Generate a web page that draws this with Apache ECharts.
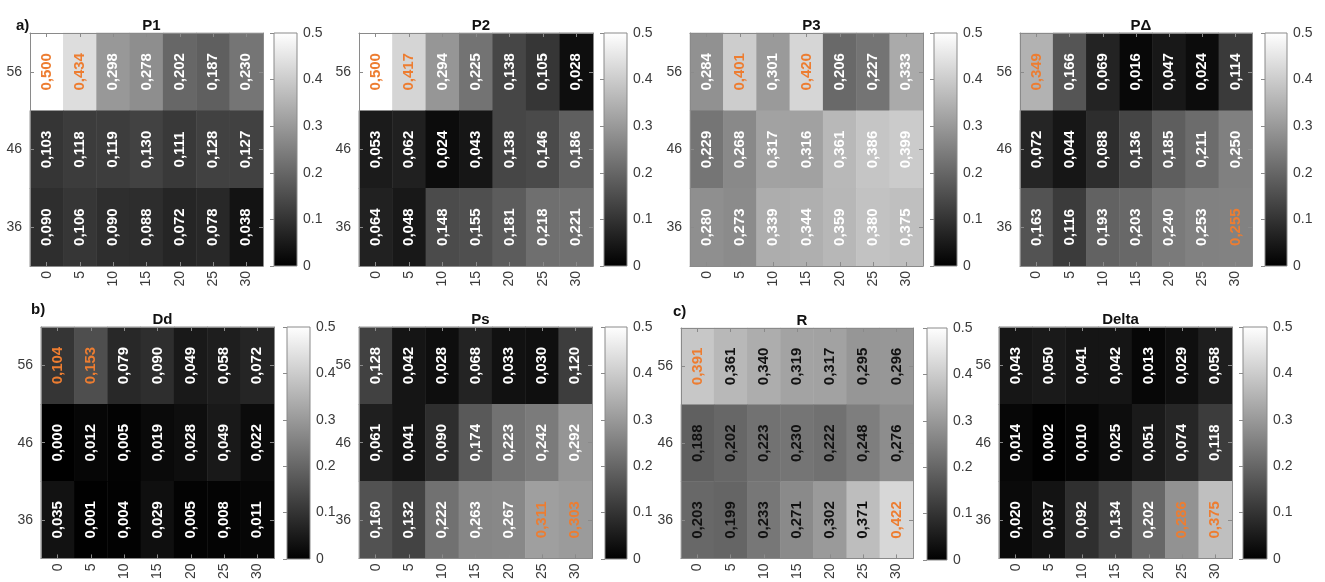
<!DOCTYPE html>
<html>
<head>
<meta charset="utf-8">
<script src="https://cdn.jsdelivr.net/npm/echarts@6/dist/echarts.min.js"></script>
<style>html,body{margin:0;padding:0;background:#fff;}#c{width:1325px;height:582px;}</style>
</head>
<body>
<div id="c"></div>
<script>
// ---- data (rows listed top to bottom: 56, 46, 36) ----
const xCats = ['0', '5', '10', '15', '20', '25', '30'];
const yCats = ['36', '46', '56'];
const rowOrder = ['56', '46', '36'];
const cbTicks = [0, 0.1, 0.2, 0.3, 0.4, 0.5];

const P1 = [
  [0.500, 0.434, 0.298, 0.278, 0.202, 0.187, 0.230],
  [0.103, 0.118, 0.119, 0.130, 0.111, 0.128, 0.127],
  [0.090, 0.106, 0.090, 0.088, 0.072, 0.078, 0.038]
];
const P2 = [
  [0.500, 0.417, 0.294, 0.225, 0.138, 0.105, 0.028],
  [0.053, 0.062, 0.024, 0.043, 0.138, 0.146, 0.186],
  [0.064, 0.048, 0.148, 0.155, 0.181, 0.218, 0.221]
];
const P3 = [
  [0.284, 0.401, 0.301, 0.420, 0.206, 0.227, 0.333],
  [0.229, 0.268, 0.317, 0.316, 0.361, 0.386, 0.399],
  [0.280, 0.273, 0.339, 0.344, 0.359, 0.380, 0.375]
];
const PD = [
  [0.349, 0.166, 0.069, 0.016, 0.047, 0.024, 0.114],
  [0.072, 0.044, 0.088, 0.136, 0.185, 0.211, 0.250],
  [0.163, 0.116, 0.193, 0.203, 0.240, 0.253, 0.255]
];
const Dd = [
  [0.104, 0.153, 0.079, 0.090, 0.049, 0.058, 0.072],
  [0.000, 0.012, 0.005, 0.019, 0.028, 0.049, 0.022],
  [0.035, 0.001, 0.004, 0.029, 0.005, 0.008, 0.011]
];
const Ps = [
  [0.128, 0.042, 0.028, 0.068, 0.033, 0.030, 0.120],
  [0.061, 0.041, 0.090, 0.174, 0.223, 0.242, 0.292],
  [0.160, 0.132, 0.222, 0.263, 0.267, 0.311, 0.303]
];
const R = [
  [0.391, 0.361, 0.340, 0.319, 0.317, 0.295, 0.296],
  [0.188, 0.202, 0.223, 0.230, 0.222, 0.248, 0.276],
  [0.203, 0.199, 0.233, 0.271, 0.302, 0.371, 0.422]
];
const Delta = [
  [0.043, 0.050, 0.041, 0.042, 0.013, 0.029, 0.058],
  [0.014, 0.002, 0.010, 0.025, 0.051, 0.074, 0.118],
  [0.020, 0.037, 0.092, 0.134, 0.202, 0.286, 0.375]
];

// highlighted cells (x category, y category)
const P1_hi = [['0', '56'], ['5', '56']];
const P2_hi = [['0', '56'], ['5', '56']];
const P3_hi = [['5', '56'], ['15', '56']];
const PD_hi = [['0', '56'], ['30', '36']];
const Dd_hi = [['0', '56'], ['5', '56']];
const Ps_hi = [['25', '36'], ['30', '36']];
const R_hi = [['0', '56'], ['30', '36']];
const Delta_hi = [['25', '36'], ['30', '36']];

// ---- layout ----
const panels = [
  { title: 'P1', vals: P1, hi: P1_hi, txt: '#ffffff', g: [30, 33, 233, 233], cb: [274, 23] },
  { title: 'P2', vals: P2, hi: P2_hi, txt: '#ffffff', g: [359, 33, 234, 233], cb: [604, 23] },
  { title: 'P3', vals: P3, hi: P3_hi, txt: '#ffffff', g: [690, 33, 233, 233], cb: [934, 23] },
  { title: 'P\u0394', vals: PD, hi: PD_hi, txt: '#ffffff', g: [1020, 33, 232, 233], cb: [1265, 22] },
  { title: 'Dd', vals: Dd, hi: Dd_hi, txt: '#ffffff', g: [41, 327, 233, 232], cb: [287, 23] },
  { title: 'Ps', vals: Ps, hi: Ps_hi, txt: '#ffffff', g: [359, 327, 233, 232], cb: [605, 22] },
  { title: 'R', vals: R, hi: R_hi, txt: '#111111', g: [681, 328, 232, 232], cb: [927, 20] },
  { title: 'Delta', vals: Delta, hi: Delta_hi, txt: '#ffffff', g: [999, 327, 233, 232], cb: [1243, 24] }
];

const FONT = 'Liberation Sans, Arial, sans-serif';
const FRAME = '#8a8a8a';
const TXT = '#3a3a3a';
const ORANGE = '#ED7D31';

const grids = [], xAxes = [], yAxes = [], series = [], titles = [];

panels.forEach(function (p, i) {
  const [l, t, w, h] = p.g;
  const gi = grids.length;
  grids.push({ left: l, top: t, width: w, height: h, containLabel: false });
  const xb = xAxes.length;
  xAxes.push({
    type: 'category', gridIndex: gi, data: xCats, position: 'bottom', z: 10,
    axisLine: { show: true, lineStyle: { color: FRAME, width: 1 } },
    axisTick: { show: true, inside: true, alignWithLabel: true, length: 4, lineStyle: { color: FRAME } },
    axisLabel: { rotate: 90, margin: 5, color: TXT, fontSize: 14, fontFamily: FONT },
    splitLine: { show: false }
  });
  xAxes.push({
    type: 'category', gridIndex: gi, data: xCats, position: 'top', z: 10,
    axisLine: { show: true, lineStyle: { color: FRAME, width: 1 } },
    axisTick: { show: true, inside: true, alignWithLabel: true, length: 4, lineStyle: { color: FRAME } },
    axisLabel: { show: false }, splitLine: { show: false }
  });
  const yb = yAxes.length;
  yAxes.push({
    type: 'category', gridIndex: gi, data: yCats, position: 'left', z: 10,
    axisLine: { show: true, lineStyle: { color: FRAME, width: 1 } },
    axisTick: { show: true, inside: true, alignWithLabel: true, length: 4, lineStyle: { color: FRAME } },
    axisLabel: { margin: 8, color: TXT, fontSize: 14, fontFamily: FONT },
    splitLine: { show: false }
  });
  yAxes.push({
    type: 'category', gridIndex: gi, data: yCats, position: 'right', z: 10,
    axisLine: { show: true, lineStyle: { color: FRAME, width: 1 } },
    axisTick: { show: true, inside: true, alignWithLabel: true, length: 4, lineStyle: { color: FRAME } },
    axisLabel: { show: false }, splitLine: { show: false }
  });

  const data = [];
  p.vals.forEach(function (row, ri) {
    const yLab = rowOrder[ri];
    row.forEach(function (v, ci) {
      const xLab = xCats[ci];
      const isHi = p.hi.some(function (h) { return h[0] === xLab && h[1] === yLab; });
      data.push({
        value: [ci, yCats.indexOf(yLab), v],
        label: { color: isHi ? ORANGE : p.txt }
      });
    });
  });
  series.push({
    type: 'heatmap', xAxisIndex: xb, yAxisIndex: yb, data: data, z: 2,
    label: {
      show: true, rotate: 90, fontSize: 15, fontWeight: 'bold', fontFamily: FONT,
      formatter: function (pr) { return pr.value[2].toFixed(3).replace('.', ','); }
    },
    itemStyle: { borderWidth: 0 },
    emphasis: { disabled: true }
  });

  titles.push({
    text: p.title, left: l + w / 2, top: t - 20, textAlign: 'center',
    textStyle: { fontSize: 15, fontWeight: 'bold', color: '#111', fontFamily: FONT }
  });

  // colorbar
  const cg = grids.length;
  grids.push({
    left: p.cb[0], top: t, width: p.cb[1], height: h, show: true,
    borderColor: FRAME, borderWidth: 1,
    backgroundColor: {
      type: 'linear', x: 0, y: 0, x2: 0, y2: 1,
      colorStops: [{ offset: 0, color: '#ffffff' }, { offset: 1, color: '#000000' }]
    }
  });
  xAxes.push({ type: 'value', gridIndex: cg, show: false, min: 0, max: 1 });
  yAxes.push({
    type: 'value', gridIndex: cg, position: 'right', min: cbTicks[0], max: cbTicks[cbTicks.length - 1], interval: 0.1,
    axisLine: { show: false },
    axisTick: { show: true, inside: true, length: 4, lineStyle: { color: FRAME } },
    axisLabel: { margin: 6, color: TXT, fontSize: 14, fontFamily: FONT,
      formatter: function (v) { return String(+v.toFixed(1)); } },
    splitLine: { show: false }
  });
});

titles.push({ text: 'a)', left: 11, top: 13, textStyle: { fontSize: 15, fontWeight: 'bold', color: '#111', fontFamily: FONT } });
titles.push({ text: 'b)', left: 26, top: 297, textStyle: { fontSize: 15, fontWeight: 'bold', color: '#111', fontFamily: FONT } });
titles.push({ text: 'c)', left: 668, top: 299, textStyle: { fontSize: 15, fontWeight: 'bold', color: '#111', fontFamily: FONT } });

const chart = echarts.init(document.getElementById('c'), null, { renderer: 'canvas' });
chart.setOption({
  backgroundColor: '#ffffff',
  animation: false,
  title: titles,
  grid: grids,
  xAxis: xAxes,
  yAxis: yAxes,
  visualMap: {
    type: 'continuous', show: false, min: 0, max: 0.5, dimension: 2,
    seriesIndex: series.map(function (_, i) { return i; }),
    inRange: { color: ['#000000', '#ffffff'] }
  },
  series: series
});
</script>
</body>
</html>
